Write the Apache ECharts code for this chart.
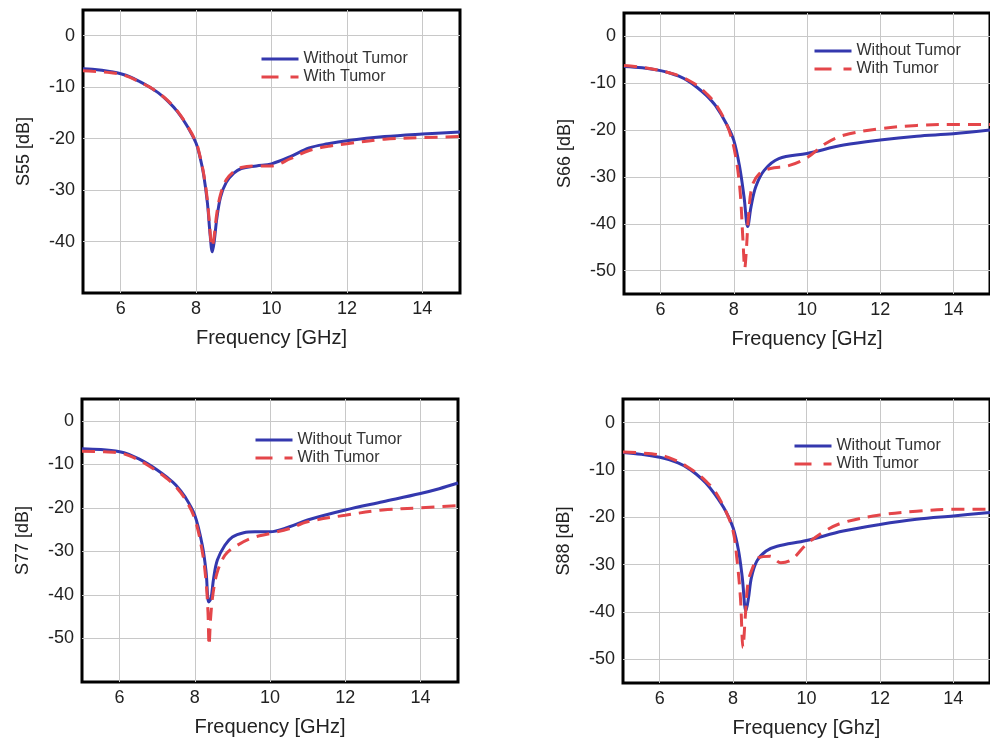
<!DOCTYPE html>
<html>
<head>
<meta charset="utf-8">
<script src="https://cdn.jsdelivr.net/npm/echarts@6/dist/echarts.min.js"></script>
<style>html,body{margin:0;padding:0;background:#fff}#c{width:990px;height:741px}</style>
</head>
<body>
<div id="c"></div>
<script>
// ---- Data ----
const seriesNames = ['Without Tumor', 'With Tumor'];
const yTitles = ['S55 [dB]', 'S66 [dB]', 'S77 [dB]', 'S88 [dB]'];
const xTitles = ['Frequency [GHz]', 'Frequency [GHz]', 'Frequency [GHz]', 'Frequency [Ghz]'];
const yMins = [-50, -55, -60, -55];
const yMax = 5;
const xMin = 5, xMax = 15;

const f55a = [5.0,5.25,5.5,5.75,6.0,6.25,6.5,6.75,7.0,7.25,7.5,7.75,8.0,8.1,8.2,8.3,8.37,8.43,8.48,8.55,8.65,8.8,9.0,9.2,9.6,10.0,10.5,11.0,11.5,12.0,13.0,14.0,15.0];
const s55a = [-6.4,-6.5,-6.7,-7.0,-7.4,-8.0,-8.9,-9.9,-11.1,-12.7,-14.7,-17.4,-20.9,-23.5,-27.0,-32.5,-38.5,-42.0,-40.0,-35.5,-31.3,-28.5,-26.7,-25.8,-25.3,-24.9,-23.5,-21.8,-21.0,-20.4,-19.6,-19.1,-18.7];
const f55b = [5.0,5.25,5.5,5.75,6.0,6.25,6.5,6.75,7.0,7.25,7.5,7.75,8.0,8.1,8.2,8.3,8.37,8.42,8.47,8.55,8.65,8.8,9.0,9.2,9.6,10.0,10.5,11.0,11.5,12.0,13.0,14.0,15.0];
const s55b = [-6.8,-6.9,-7.0,-7.2,-7.5,-8.1,-9.0,-9.9,-11.1,-12.6,-14.6,-17.3,-20.7,-23.3,-26.8,-32.0,-38.0,-41.0,-39.5,-34.5,-30.8,-28.0,-26.4,-25.6,-25.3,-25.3,-23.9,-22.3,-21.5,-21.0,-20.1,-19.8,-19.6];

const f66a = [5.0,5.5,6.0,6.25,6.5,6.75,7.0,7.25,7.5,7.8,8.0,8.16,8.28,8.38,8.47,8.6,8.83,9.23,10.0,11.0,12.0,13.0,14.0,15.0];
const s66a = [-6.4,-6.7,-7.3,-7.8,-8.5,-9.5,-10.9,-12.6,-14.8,-18.7,-22.2,-27.9,-34.3,-40.6,-36.4,-32.1,-28.6,-26.1,-25.0,-23.2,-22.1,-21.3,-20.8,-20.0];
const f66b = [5.0,5.5,6.0,6.25,6.5,6.75,7.0,7.25,7.5,7.8,8.0,8.16,8.25,8.3,8.34,8.4,8.5,8.7,9.0,9.5,10.0,10.5,11.0,12.0,13.0,14.0,15.0];
const s66b = [-6.2,-6.6,-7.3,-7.8,-8.4,-9.3,-10.5,-12.2,-14.4,-18.7,-23.6,-32.0,-43.5,-49.5,-46.0,-38.5,-32.0,-29.3,-28.2,-27.6,-25.9,-22.9,-21.1,-19.7,-19.0,-18.8,-18.8];

const f77a = [5.0,5.5,6.0,6.25,6.5,6.75,7.0,7.25,7.5,7.75,8.0,8.2,8.3,8.37,8.43,8.5,8.6,8.8,9.0,9.3,9.6,10.0,10.5,11.0,12.0,13.0,14.0,14.5,15.0];
const s77a = [-6.4,-6.6,-7.1,-7.7,-8.7,-9.9,-11.3,-12.9,-14.8,-17.6,-21.7,-28.6,-34.7,-41.6,-40.8,-36.2,-32.0,-28.6,-26.7,-25.7,-25.5,-25.5,-24.4,-22.8,-20.5,-18.6,-16.7,-15.6,-14.3];
const f77b = [5.0,5.5,6.0,6.25,6.5,6.75,7.0,7.25,7.5,7.75,8.0,8.2,8.3,8.35,8.38,8.42,8.48,8.6,8.8,9.0,9.5,10.0,10.5,11.0,12.0,13.0,14.0,15.0];
const s77b = [-7.0,-7.1,-7.4,-8.0,-9.0,-10.2,-11.6,-13.2,-15.2,-18.1,-22.5,-30.1,-37.0,-43.9,-51.6,-45.4,-40.0,-34.7,-30.9,-29.3,-27.0,-25.9,-24.8,-23.2,-21.7,-20.5,-20.0,-19.5];

const f88a = [5.0,5.5,6.0,6.25,6.5,6.75,7.0,7.25,7.5,7.8,8.0,8.15,8.25,8.35,8.42,8.5,8.65,8.9,9.2,10.0,11.0,12.0,13.0,14.0,15.0];
const s88a = [-6.3,-6.7,-7.3,-7.8,-8.5,-9.5,-10.9,-12.7,-15.1,-18.7,-22.2,-27.1,-32.7,-39.8,-37.0,-32.7,-29.2,-27.1,-26.1,-24.9,-22.9,-21.5,-20.4,-19.7,-19.0];
const f88b = [5.0,5.5,6.0,6.25,6.5,6.75,7.0,7.25,7.5,7.8,8.0,8.1,8.2,8.27,8.33,8.4,8.5,8.7,9.0,9.3,9.6,10.0,10.5,11.0,12.0,13.0,14.0,15.0];
const s88b = [-6.2,-6.4,-6.8,-7.4,-8.2,-9.3,-10.6,-12.3,-14.4,-18.7,-22.9,-28.5,-37.0,-47.5,-41.2,-34.2,-31.3,-28.5,-28.2,-29.6,-28.9,-25.7,-22.9,-21.1,-19.5,-18.7,-18.3,-18.3];

const panelData = [
  [[f55a, s55a], [f55b, s55b]],
  [[f66a, s66a], [f66b, s66b]],
  [[f77a, s77a], [f77b, s77b]],
  [[f88a, s88a], [f88b, s88b]]
];

// ---- Layout / style ----
const grids = [
  {left: 83, top: 10, width: 377, height: 283},
  {left: 624, top: 13, width: 374, height: 281},
  {left: 82, top: 399, width: 376, height: 283},
  {left: 623, top: 399, width: 374, height: 284}
];
const legendPos = [
  {left: 260, top: 51},
  {left: 813, top: 43},
  {left: 254, top: 432},
  {left: 793, top: 438}
];
const FONT = '"Liberation Sans", Arial, sans-serif';
const BLUE = '#3438ae';
const RED = '#e4464a';
const DASH = [13, 8];

const pairs = (xs, ys) => xs.map((x, i) => [x, ys[i]]);

const option = {
  backgroundColor: '#fff',
  animation: false,
  textStyle: {fontFamily: FONT},
  grid: grids.map(g => Object.assign({show: true, borderColor: '#000', borderWidth: 3, backgroundColor: 'transparent', containLabel: false}, g)),
  xAxis: grids.map((g, i) => ({
    type: 'value', gridIndex: i, min: xMin, max: xMax, minInterval: 2, maxInterval: 2,
    name: xTitles[i], nameLocation: 'middle', nameGap: 35,
    nameTextStyle: {fontSize: 20, color: '#222', fontFamily: FONT},
    axisLine: {show: false}, axisTick: {show: false},
    axisLabel: {fontSize: 18, color: '#222', margin: 7, showMinLabel: false, showMaxLabel: false, fontFamily: FONT},
    splitLine: {show: true, showMinLine: false, showMaxLine: false, lineStyle: {color: '#c8c8c8', width: 1}}
  })),
  yAxis: grids.map((g, i) => ({
    type: 'value', gridIndex: i, min: yMins[i], max: yMax, minInterval: 10, maxInterval: 10,
    name: yTitles[i], nameLocation: 'middle', nameGap: 50,
    nameTextStyle: {fontSize: 18, color: '#222', fontFamily: FONT},
    axisLine: {show: false}, axisTick: {show: false},
    axisLabel: {fontSize: 18, color: '#222', margin: 8, showMinLabel: false, showMaxLabel: false, fontFamily: FONT},
    splitLine: {show: true, showMinLine: false, showMaxLine: false, lineStyle: {color: '#c8c8c8', width: 1}}
  })),
  legend: legendPos.map(p => ({
    left: p.left, top: p.top, orient: 'vertical', padding: 0,
    itemWidth: 37, itemHeight: 12, itemGap: 2,
    itemStyle: {opacity: 0},
    data: [
      {name: seriesNames[0], lineStyle: {color: BLUE, width: 3, type: 'solid'}},
      {name: seriesNames[1], lineStyle: {color: RED, width: 3, type: [17, 12]}}
    ],
    selectedMode: false,
    textStyle: {fontSize: 16, color: '#333', lineHeight: 16, fontFamily: FONT}
  })),
  series: []
};

panelData.forEach((pd, i) => {
  pd.forEach((d, k) => {
    option.series.push({
      name: seriesNames[k], type: 'line', xAxisIndex: i, yAxisIndex: i,
      data: pairs(d[0], d[1]), symbol: 'none', smooth: 0.35,
      lineStyle: k === 0 ? {color: BLUE, width: 3} : {color: RED, width: 3, type: DASH},
      itemStyle: {color: k === 0 ? BLUE : RED},
      z: k === 0 ? 3 : 4
    });
  });
});

const chart = echarts.init(document.getElementById('c'), null, {renderer: 'canvas'});
chart.setOption(option);
</script>
</body>
</html>
